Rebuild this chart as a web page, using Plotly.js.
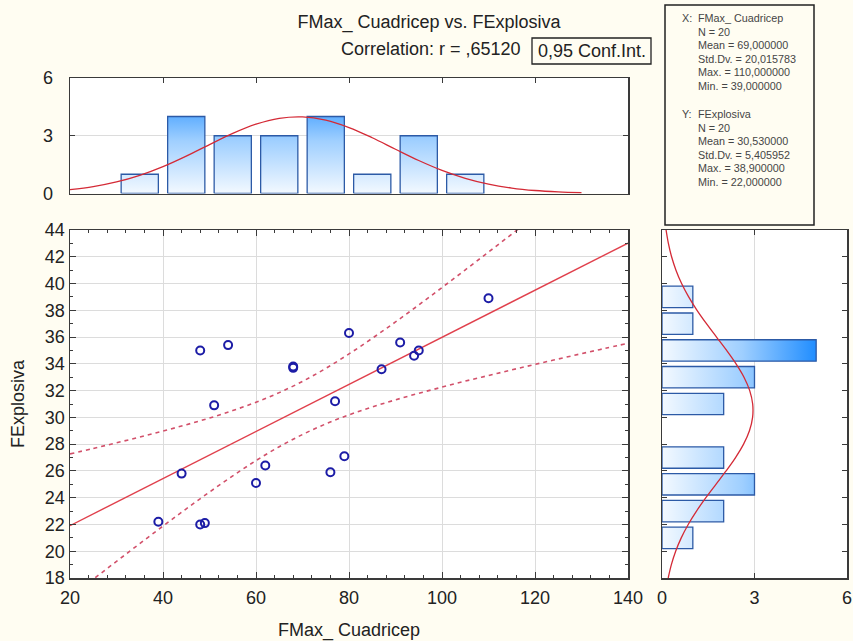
<!DOCTYPE html>
<html>
<head>
<meta charset="utf-8">
<script src="https://cdn.plot.ly/plotly-3.0.1.min.js"></script>
<style>html,body{margin:0;padding:0;background:#fffdf2;}#chart{width:853px;height:641px;}</style>
</head>
<body>
<div id="chart"></div>
<script>
// ---- data ----
const fmaxCuadricep = [48, 54, 51, 44, 60, 62, 39, 48, 49, 68, 68, 80, 91, 95, 94, 87, 110, 77, 79, 76];
const fExplosiva    = [35.0, 35.4, 30.9, 25.8, 25.1, 26.4, 22.2, 22.0, 22.1, 33.7, 33.8, 36.3, 35.6, 35.0, 34.6, 33.6, 38.9, 31.2, 27.1, 25.9];

const histXCenters = [35, 45, 55, 65, 75, 85, 95, 105];
const histXCounts  = [1, 4, 3, 3, 4, 1, 3, 1];
const histYCenters = [21, 23, 25, 27, 29, 31, 33, 35, 37, 39];
const histYCounts  = [1, 2, 3, 2, 0, 2, 3, 5, 1, 1];

const normXGrid    = [20,25,30,35,40,45,50,55,60,65,70,75,80,85,90,95,100,105,110,115,120,125,130];
const normXDensity = [0.199,0.356,0.598,0.942,1.395,1.942,2.540,3.121,3.603,3.907,3.981,3.811,3.427,2.896,2.299,1.714,1.201,0.791,0.489,0.284,0.155,0.080,0.038];
const normYGrid    = [18,19,20,21,22,23,24,25,26,27,28,29,30,31,32,33,34,35,36,37,38,39,40,41,42,43,44];
const normYDensity = [0.201,0.304,0.443,0.624,0.850,1.119,1.423,1.749,2.078,2.385,2.646,2.836,2.938,2.941,2.845,2.659,2.402,2.097,1.769,1.442,1.136,0.865,0.636,0.453,0.311,0.207,0.132];

const fitX = [20, 140];
const fitY = [21.91, 43.02];
const bandX     = [20,25,30,35,40,45,50,55,60,65,70,75,80,85,90,95,100,105,110,115,120,125,130,135,140];
const bandUpper = [27.27,27.68,28.10,28.53,28.98,29.45,29.95,30.51,31.13,31.85,32.69,33.66,34.74,35.91,37.13,38.40,39.70,41.02,42.35,43.69,45.04,46.40,47.76,49.12,50.49];
const bandLower = [16.56,17.91,19.24,20.57,21.88,23.17,24.42,25.63,26.77,27.81,28.72,29.51,30.19,30.78,31.31,31.80,32.26,32.71,33.13,33.55,33.96,34.36,34.76,35.15,35.54];

const titleText = 'FMax_ Cuadricep vs. FExplosiva';
const corrText  = 'Correlation: r = ,65120';
const confText  = '0,95 Conf.Int.';
const xTitle = 'FMax_ Cuadricep';
const yTitle = 'FExplosiva';
const statsXHead = ['X:', 'FMax_ Cuadricep'];
const statsXLines = ['N = 20', 'Mean = 69,000000', 'Std.Dv. = 20,015783', 'Max. = 110,000000', 'Min. = 39,000000'];
const statsYHead = ['Y:', 'FExplosiva'];
const statsYLines = ['N = 20', 'Mean = 30,530000', 'Std.Dv. = 5,405952', 'Max. = 38,900000', 'Min. = 22,000000'];

// ---- layout helpers (pixel -> paper) ----
const W = 853, H = 641;
const PX = v => v / W;
const PY = v => 1 - v / H;
const FONT = 'Liberation Sans, Arial, sans-serif';
const FS = 18;

// histogram polygons from bins
const halfX = 4, halfY = 0.8;
const topBarsX = [], topBarsY = [];
histXCenters.forEach((c, i) => {
  const n = histXCounts[i]; if (!n) return;
  topBarsX.push(c - halfX, c - halfX, c + halfX, c + halfX, c - halfX, null);
  topBarsY.push(0, n, n, 0, 0, null);
});
const rBarsX = [], rBarsY = [];
histYCenters.forEach((c, i) => {
  const n = histYCounts[i]; if (!n) return;
  rBarsX.push(0, n, n, 0, 0, null);
  rBarsY.push(c - halfY, c - halfY, c + halfY, c + halfY, c - halfY, null);
});

const blueScale = [[0, '#f3f9ff'], [0.5, '#9fcfff'], [1, '#1688ff']];
const barLine = {color: '#2c5aa6', width: 1.3};

const traces = [
  {type: 'scatter', mode: 'lines', x: topBarsX, y: topBarsY, xaxis: 'x2', yaxis: 'y2',
   fill: 'toself', line: barLine,
   fillgradient: {type: 'vertical', colorscale: blueScale, start: 0, stop: 5.5},
   hoverinfo: 'skip', showlegend: false},
  {type: 'scatter', mode: 'lines', x: normXGrid, y: normXDensity, xaxis: 'x2', yaxis: 'y2',
   line: {color: '#d42a36', width: 1.3, shape: 'spline'}, showlegend: false},
  {type: 'scatter', mode: 'lines', x: rBarsX, y: rBarsY, xaxis: 'x3', yaxis: 'y3',
   fill: 'toself', line: barLine,
   fillgradient: {type: 'horizontal', colorscale: blueScale, start: 0, stop: 5.2},
   hoverinfo: 'skip', showlegend: false},
  {type: 'scatter', mode: 'lines', x: normYDensity, y: normYGrid, xaxis: 'x3', yaxis: 'y3',
   line: {color: '#d42a36', width: 1.3, shape: 'spline'}, showlegend: false},
  {type: 'scatter', mode: 'lines', x: bandX, y: bandUpper, xaxis: 'x', yaxis: 'y',
   line: {color: '#d2506a', width: 1.6, dash: '4px,4px', shape: 'spline'}, showlegend: false},
  {type: 'scatter', mode: 'lines', x: bandX, y: bandLower, xaxis: 'x', yaxis: 'y',
   line: {color: '#d2506a', width: 1.6, dash: '4px,4px', shape: 'spline'}, showlegend: false},
  {type: 'scatter', mode: 'lines', x: fitX, y: fitY, xaxis: 'x', yaxis: 'y',
   line: {color: '#e0404c', width: 1.4}, showlegend: false},
  {type: 'scatter', mode: 'markers', x: fmaxCuadricep, y: fExplosiva, xaxis: 'x', yaxis: 'y',
   marker: {symbol: 'circle-open', size: 8, color: '#1c1ca6', line: {width: 2, color: '#1c1ca6'}},
   showlegend: false}
];

const axLine = {showline: true, linecolor: '#3a3a3a', linewidth: 1.5, zeroline: false,
  tickcolor: '#3a3a3a', ticks: 'inside', tickfont: {family: FONT, size: FS, color: '#222'}};

const mainXDom = [PX(70), PX(628)];
const mainYDom = [PY(578), PY(230)];

const annotations = [];
annotations.push({xref: 'paper', yref: 'paper', x: PX(523), y: PY(49), xanchor: 'right', yanchor: 'middle',
  text: corrText, showarrow: false, font: {family: FONT, size: FS, color: '#222'}});
annotations.push({xref: 'paper', yref: 'paper', x: PX(591.5), y: PY(51), xanchor: 'center', yanchor: 'middle',
  text: confText, showarrow: false, font: {family: FONT, size: FS, color: '#222'}});
annotations.push({xref: 'paper', yref: 'paper', x: PX(349), y: PY(630), xanchor: 'center', yanchor: 'middle',
  text: xTitle, showarrow: false, font: {family: FONT, size: FS, color: '#222'}});
annotations.push({xref: 'paper', yref: 'paper', x: PX(18), y: PY(404), xanchor: 'center', yanchor: 'middle',
  text: yTitle, textangle: -90, showarrow: false, font: {family: FONT, size: FS, color: '#222'}});

const statFont = {family: FONT, size: 10.8, color: '#454545'};
function statBlock(head, lines, top) {
  annotations.push({xref: 'paper', yref: 'paper', x: PX(680), y: PY(top), xanchor: 'left', yanchor: 'middle',
    text: head[0], showarrow: false, font: statFont});
  annotations.push({xref: 'paper', yref: 'paper', x: PX(696), y: PY(top), xanchor: 'left', yanchor: 'middle',
    text: head[1], showarrow: false, font: statFont});
  lines.forEach((t, i) => annotations.push({xref: 'paper', yref: 'paper', x: PX(696), y: PY(top + 13.6 * (i + 1)),
    xanchor: 'left', yanchor: 'middle', text: t, showarrow: false, font: statFont}));
}
statBlock(statsXHead, statsXLines, 18);
statBlock(statsYHead, statsYLines, 114);

const layout = {
  width: W, height: 641, autosize: false,
  margin: {l: 0, r: 0, t: 0, b: 0},
  paper_bgcolor: '#fffdf2', plot_bgcolor: '#ffffff',
  font: {family: FONT, color: '#222'},
  showlegend: false,
  title: {text: titleText, x: PX(429), y: PY(22), xref: 'paper', yref: 'paper', xanchor: 'center', yanchor: 'middle',
    font: {family: FONT, size: FS, color: '#222'}},
  xaxis: Object.assign({}, axLine, {domain: mainXDom, anchor: 'y', range: [20, 140], tick0: 20, dtick: 20,
    ticklen: 6, mirror: 'ticks', showgrid: true, gridcolor: '#dcdcdc', gridwidth: 1, ticklabelstandoff: 3,
    minor: {dtick: 4, tick0: 20, ticks: 'inside', ticklen: 3, tickcolor: '#3a3a3a', showgrid: false}}),
  yaxis: Object.assign({}, axLine, {domain: mainYDom, anchor: 'x', range: [18, 44], tick0: 18, dtick: 2,
    ticklen: 6, mirror: 'ticks', showgrid: true, gridcolor: '#dcdcdc', gridwidth: 1,
    minor: {dtick: 1, tick0: 18, ticks: 'inside', ticklen: 3, tickcolor: '#3a3a3a', showgrid: false}}),
  xaxis2: Object.assign({}, axLine, {domain: mainXDom, anchor: 'y2', side: 'top', range: [20, 140], tick0: 20, dtick: 20,
    ticklen: 5, mirror: true, showticklabels: false, showgrid: false}),
  yaxis2: Object.assign({}, axLine, {domain: [PY(193.5), PY(78)], anchor: 'x2', range: [0, 6], tick0: 0, dtick: 3,
    ticklen: 5, mirror: 'ticks', showgrid: true, gridcolor: '#dcdcdc', ticklabelstandoff: 12}),
  xaxis3: Object.assign({}, axLine, {domain: [PX(662), PX(847)], anchor: 'y3', range: [0, 6], tick0: 0, dtick: 3,
    ticklen: 5, mirror: 'ticks', showgrid: true, gridcolor: '#dcdcdc', ticklabelstandoff: 3}),
  yaxis3: Object.assign({}, axLine, {domain: mainYDom, anchor: 'x3', range: [18, 44], tick0: 18, dtick: 2,
    ticklen: 5, mirror: 'ticks', showticklabels: false, showgrid: false}),
  shapes: [
    {type: 'rect', xref: 'paper', yref: 'paper', x0: PX(665), x1: PX(814), y0: PY(225), y1: PY(5),
     line: {color: '#222', width: 1.5}, fillcolor: 'rgba(0,0,0,0)'},
    {type: 'rect', xref: 'paper', yref: 'paper', x0: PX(532), x1: PX(651), y0: PY(64), y1: PY(38),
     line: {color: '#222', width: 1.3}, fillcolor: 'rgba(0,0,0,0)'}
  ],
  annotations: annotations
};

Plotly.newPlot('chart', traces, layout, {displayModeBar: false, staticPlot: true});
</script>
</body>
</html>
